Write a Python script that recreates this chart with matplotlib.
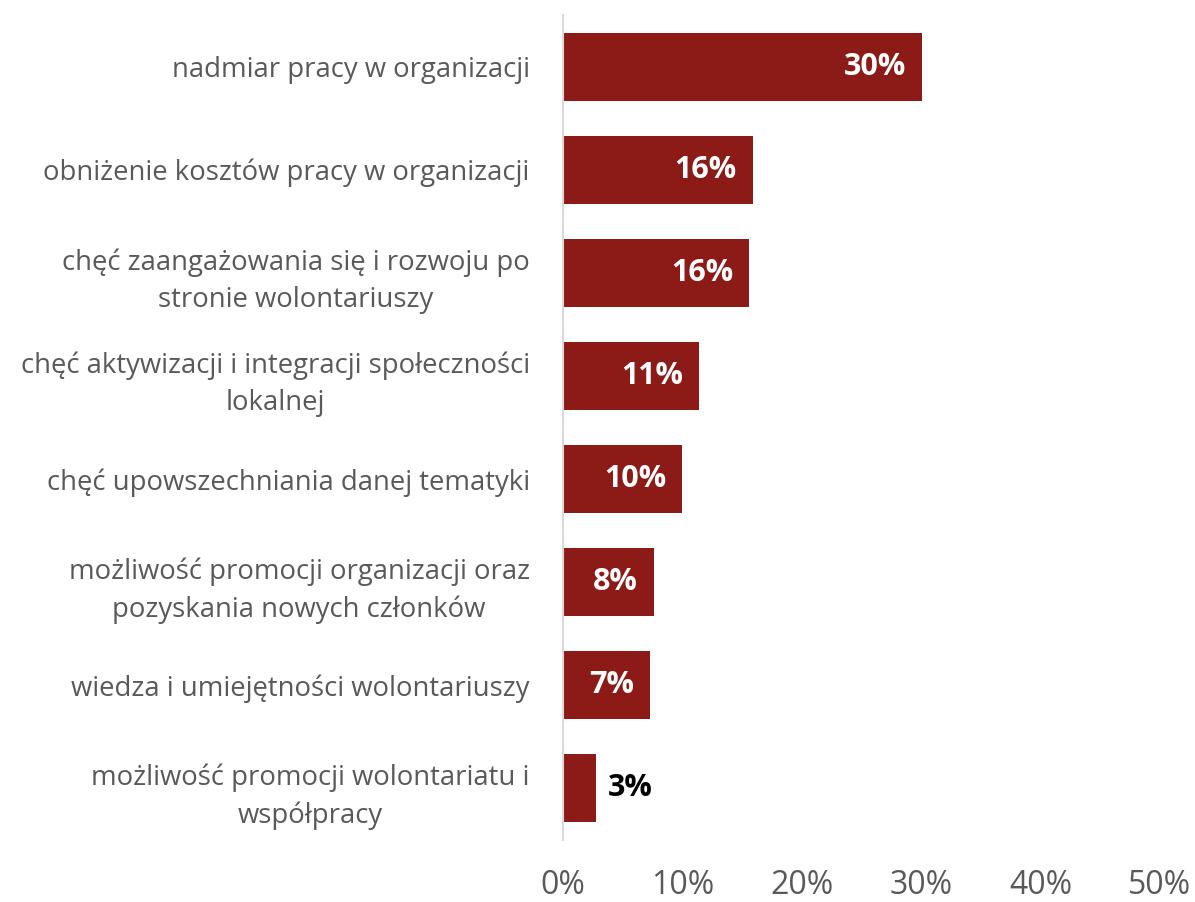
import matplotlib.pyplot as plt
from matplotlib.ticker import FuncFormatter

plt.rcParams['font.family'] = ['Open Sans', 'DejaVu Sans']

labels = [
    'nadmiar pracy w organizacji',
    'obniżenie kosztów pracy w organizacji',
    'chęć zaangażowania się i rozwoju po\nstronie wolontariuszy',
    'chęć aktywizacji i integracji społeczności\nlokalnej',
    'chęć upowszechniania danej tematyki',
    'możliwość promocji organizacji oraz\npozyskania nowych członków',
    'wiedza i umiejętności wolontariuszy',
    'możliwość promocji wolontariatu i\nwspółpracy',
]
values = [30.1, 15.9, 15.6, 11.4, 10.0, 7.6, 7.3, 2.8]
value_labels = ['30%', '16%', '16%', '11%', '10%', '8%', '7%', '3%']

fig = plt.figure(figsize=(11.95, 9.02), dpi=100)
ax = fig.add_axes([563 / 1195, 62 / 902, 597 / 1195, 825 / 902])

pos = list(range(len(values)))
ax.barh(pos, values, height=0.66, color='#8c1a16')
ax.set_ylim(len(values) - 0.5, -0.5)
ax.set_xlim(0, 50)
ax.set_xticks([0, 10, 20, 30, 40, 50])
ax.xaxis.set_major_formatter(FuncFormatter(lambda v, p: f'{v:.0f}%'))
ax.set_yticks(pos)
ax.set_yticklabels(labels, multialignment='center', linespacing=1.45)
ax.tick_params(axis='y', length=0, pad=24, labelsize=19.8, labelcolor='#595959')
ax.tick_params(axis='x', length=0, pad=21, labelsize=23, labelcolor='#595959')

for s in ['top', 'right', 'bottom']:
    ax.spines[s].set_visible(False)
ax.spines['left'].set_color('#d9d9d9')
ax.spines['left'].set_linewidth(1.5)

for i, (v, t) in enumerate(zip(values, value_labels)):
    if v > 5:
        ax.text(v - 1.35, i, t, ha='right', va='center', color='white',
                fontsize=22, fontweight='bold')
    else:
        ax.text(v + 1.0, i, t, ha='left', va='center', color='black',
                fontsize=22, fontweight='bold')

fig.savefig('out.png', dpi=100)
